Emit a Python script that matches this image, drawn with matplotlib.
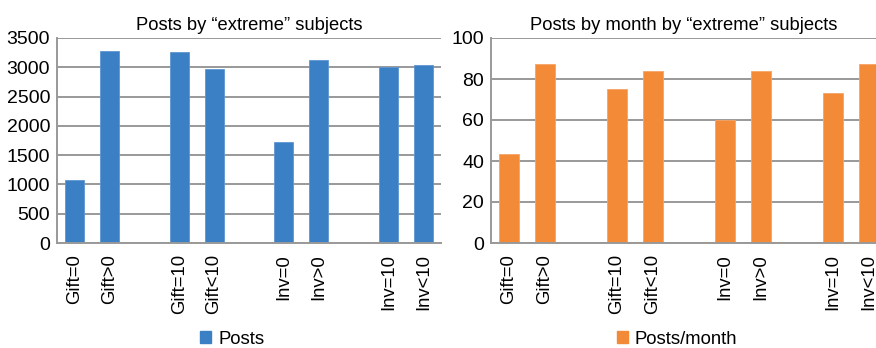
import matplotlib.pyplot as plt
import matplotlib.patches as mpatches

plt.rcParams['font.family'] = ['Liberation Sans', 'DejaVu Sans']

categories = ["Gift=0", "Gift>0", "Gift=10", "Gift<10", "Inv=0", "Inv>0", "Inv=10", "Inv<10"]
posts = [1080, 3285, 3260, 2970, 1725, 3130, 3000, 3040]
posts_month = [43.4, 87.5, 75.1, 83.7, 60.2, 83.7, 73.3, 87.5]

# pairs of categories, with an empty slot between each pair
pos = [i + i // 2 for i in range(len(categories))]

blue = "#3b7fc4"
orange = "#f28a38"
grid_c = "#999999"

fig = plt.figure(figsize=(8.76, 3.48), dpi=100)
W, H = 876, 348
ax1 = fig.add_axes([57 / W, 1 - 243 / H, (441 - 57) / W, (243 - 38) / H])
ax2 = fig.add_axes([491 / W, 1 - 243 / H, (876 - 491) / W, (243 - 38) / H])


def style(ax, title, ymax, step):
    ax.set_ylim(0, ymax)
    ax.set_yticks(range(0, ymax + 1, step))
    ax.set_xticks(pos)
    ax.set_xticklabels(categories, rotation=90, fontsize=13.3)
    ax.tick_params(axis='y', labelsize=14, length=0, pad=5)
    ax.tick_params(axis='x', length=0, pad=8)
    ax.grid(axis='y', color=grid_c, linewidth=1.4)
    ax.set_axisbelow(True)
    for s in ['top', 'right']:
        ax.spines[s].set_visible(False)
    for s in ['left', 'bottom']:
        ax.spines[s].set_color(grid_c)
        ax.spines[s].set_linewidth(1.4)
    ax.set_title(title, fontsize=13.2, pad=6)


ax1.bar(pos, posts, width=0.54, color=blue, edgecolor="#5f97d2", linewidth=0.6)
style(ax1, "Posts by \u201cextreme\u201d subjects", 3500, 500)
ax1.set_xlim(-0.5, 10.5)

ax2.bar(pos, posts_month, width=0.55, color=orange, edgecolor="#f5a466", linewidth=0.6)
style(ax2, "Posts by month by \u201cextreme\u201d subjects", 100, 20)
ax2.set_xlim(-0.5, 10.2)

fig.legend(handles=[mpatches.Patch(color=blue, label="Posts")], loc='center',
           bbox_to_anchor=(232 / W, 1 - 339 / H), frameon=False, fontsize=13.3,
           handlelength=0.6, handleheight=0.6, handletextpad=0.4)
fig.legend(handles=[mpatches.Patch(color=orange, label="Posts/month")], loc='center',
           bbox_to_anchor=(677 / W, 1 - 339 / H), frameon=False, fontsize=13.3,
           handlelength=0.6, handleheight=0.6, handletextpad=0.4)

fig.savefig("out.png", dpi=100)
